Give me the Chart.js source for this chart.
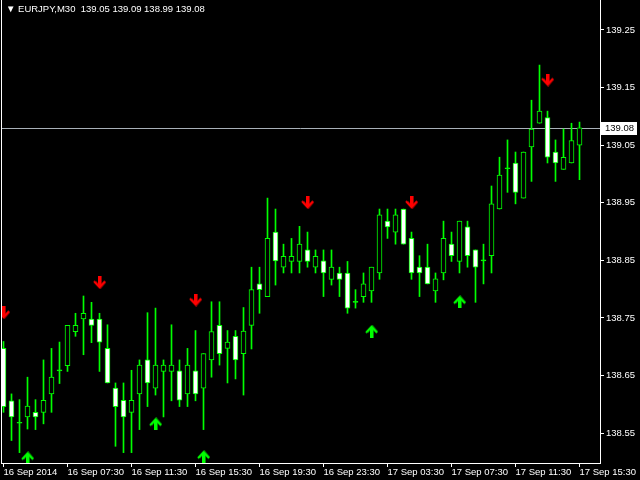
<!DOCTYPE html>
<html lang="en">
<head>
    <meta charset="UTF-8">
    <title>EURJPY,M30</title>
    <script src="https://cdn.jsdelivr.net/npm/chart.js"></script>
    <style>
        html, body {
            margin: 0;
            padding: 0;
            background: #000;
        }
        .wrap {
            position: relative;
            width: 640px;
            height: 480px;
        }
        .caption {
            position: absolute;
            left: 6px;
            top: 3px;
            color: #fff;
            font: 9.5px "Liberation Sans", Arial, sans-serif;
            white-space: pre;
        }
    </style>
</head>
<body>
    <div class="wrap">
        <canvas id="chart" width="640" height="480"></canvas>
        <div class="caption" id="caption"></div>
    </div>

    <script>
        const symbolTitle = 'EURJPY,M30';

        // OHLC, одна свеча на 30 минут
        const opens  = [138.697, 138.606, 138.567, 138.578, 138.586, 138.586, 138.618, 138.658, 138.667, 138.726,
                        138.748, 138.748, 138.748, 138.697, 138.628, 138.607, 138.586, 138.618, 138.677, 138.628,
                        138.657, 138.657, 138.658, 138.618, 138.658, 138.628, 138.677, 138.737, 138.697, 138.718,
                        138.688, 138.737, 138.809, 138.787, 138.899, 138.838, 138.848, 138.848, 138.868, 138.838,
                        138.849, 138.817, 138.828, 138.828, 138.777, 138.787, 138.797, 138.828, 138.918, 138.899,
                        138.939, 138.888, 138.838, 138.838, 138.797, 138.828, 138.878, 138.848, 138.908, 138.868,
                        138.849, 138.858, 138.939, 139.009, 139.019, 138.958, 139.047, 139.088, 139.098, 139.038,
                        139.008, 139.019, 139.05];
        const highs  = [138.709, 138.618, 138.608, 138.647, 138.608, 138.677, 138.697, 138.708, 138.737, 138.758,
                        138.788, 138.777, 138.758, 138.738, 138.637, 138.637, 138.659, 138.677, 138.759, 138.767,
                        138.677, 138.738, 138.677, 138.697, 138.728, 138.688, 138.778, 138.778, 138.728, 138.728,
                        138.768, 138.838, 138.838, 138.958, 138.939, 138.878, 138.888, 138.909, 138.899, 138.868,
                        138.868, 138.868, 138.838, 138.848, 138.799, 138.828, 138.838, 138.939, 138.939, 138.939,
                        138.939, 138.899, 138.858, 138.878, 138.828, 138.918, 138.899, 138.918, 138.918, 138.868,
                        138.878, 138.979, 139.029, 139.059, 139.038, 139.038, 139.128, 139.189, 139.109, 139.059,
                        139.078, 139.088, 139.09];
        const lows   = [138.586, 138.537, 138.516, 138.557, 138.556, 138.566, 138.586, 138.636, 138.657, 138.718,
                        138.686, 138.707, 138.657, 138.637, 138.527, 138.516, 138.516, 138.556, 138.596, 138.616,
                        138.578, 138.606, 138.596, 138.596, 138.606, 138.556, 138.647, 138.668, 138.637, 138.644,
                        138.616, 138.696, 138.758, 138.787, 138.807, 138.828, 138.828, 138.828, 138.838, 138.828,
                        138.787, 138.807, 138.787, 138.758, 138.767, 138.777, 138.777, 138.817, 138.888, 138.878,
                        138.878, 138.817, 138.787, 138.809, 138.777, 138.816, 138.848, 138.828, 138.838, 138.777,
                        138.809, 138.828, 138.939, 138.968, 138.948, 138.958, 138.987, 139.088, 139.019, 138.987,
                        139.008, 139.019, 138.99];
        const closes = [138.596, 138.578, 138.567, 138.597, 138.578, 138.607, 138.647, 138.658, 138.737, 138.737,
                        138.758, 138.737, 138.708, 138.637, 138.596, 138.578, 138.607, 138.668, 138.637, 138.668,
                        138.668, 138.668, 138.607, 138.668, 138.618, 138.688, 138.726, 138.688, 138.708, 138.677,
                        138.727, 138.799, 138.799, 138.888, 138.849, 138.857, 138.857, 138.878, 138.848, 138.857,
                        138.828, 138.838, 138.817, 138.767, 138.777, 138.809, 138.838, 138.929, 138.908, 138.929,
                        138.878, 138.828, 138.828, 138.809, 138.818, 138.888, 138.858, 138.918, 138.858, 138.838,
                        138.849, 138.948, 138.998, 139.009, 138.968, 139.038, 139.078, 139.109, 139.029, 139.019,
                        139.029, 139.058, 139.08];

        // подписи времени (каждые 8 свечей)
        const timeTickIndex = [0, 8, 16, 24, 32, 40, 48, 56, 64, 72];
        const timeLabels = ['16 Sep 2014', '16 Sep 07:30', '16 Sep 11:30', '16 Sep 15:30', '16 Sep 19:30',
                            '16 Sep 23:30', '17 Sep 03:30', '17 Sep 07:30', '17 Sep 11:30', '17 Sep 15:30'];
        const priceTicks = [138.55, 138.65, 138.75, 138.85, 138.95, 139.05, 139.15, 139.25];

        // стрелки индикатора
        const downArrowIdx   = [0, 12, 24, 38, 51, 68];
        const downArrowPrice = [138.759, 138.811, 138.781, 138.950, 138.950, 139.163];
        const upArrowIdx     = [3, 19, 25, 46, 57];
        const upArrowPrice   = [138.507, 138.566, 138.509, 138.727, 138.778];

        const last = closes.length - 1;
        document.getElementById('caption').textContent =
            '\u25BC ' + symbolTitle + '  ' +
            [opens[last], highs[last], lows[last], closes[last]].map(v => v.toFixed(2)).join(' ');

        const GREEN = '#00ff00';
        const AXIS = '#ffffff';
        const FONT = { family: '"Liberation Sans", Arial, sans-serif', size: 9.5 };

        function arrowImage(color, shade, down) {
            const c = document.createElement('canvas');
            c.width = 13;
            c.height = 13;
            const g = c.getContext('2d');
            if (!down) {
                g.translate(0, 13);
                g.scale(1, -1);
            }
            g.lineCap = 'butt';
            g.strokeStyle = shade;
            g.lineWidth = 2;
            g.beginPath();
            g.moveTo(2.5, 5.5); g.lineTo(7.5, 11.5); g.lineTo(12.5, 5.5);
            g.stroke();
            g.fillStyle = shade;
            g.fillRect(7, 0, 2, 11);
            g.strokeStyle = color;
            g.beginPath();
            g.moveTo(1, 5); g.lineTo(6.5, 11); g.lineTo(12, 5);
            g.stroke();
            g.fillStyle = color;
            g.fillRect(5, 0, 3, 11);
            return c;
        }

        const wickData = highs.map((h, i) => ({ x: i, y: [lows[i], h] }));
        const bodyData = opens.map((o, i) => ({ x: i, y: [o, closes[i]] }));
        const downData = downArrowIdx.map((x, k) => ({ x: x, y: downArrowPrice[k] }));
        const upData = upArrowIdx.map((x, k) => ({ x: x, y: upArrowPrice[k] }));

        function bodyColor(ctx) {
            const i = ctx.dataIndex;
            if (opens[i] === closes[i]) return GREEN;
            return closes[i] > opens[i] ? '#000000' : '#ffffff';
        }

        function noPadding(scale) {
            scale.paddingLeft = 0;
            scale.paddingRight = 0;
            scale.paddingTop = 0;
            scale.paddingBottom = 0;
        }

        const frame = {
            id: 'frame',
            beforeDatasetsDraw(chart) {
                const { ctx, chartArea } = chart;
                const y = Math.round(chart.scales.y.getPixelForValue(closes[last])) + 0.5;
                ctx.save();
                ctx.strokeStyle = '#a8b0b8';
                ctx.lineWidth = 1;
                ctx.beginPath();
                ctx.moveTo(chartArea.left, y);
                ctx.lineTo(chartArea.right, y);
                ctx.stroke();
                ctx.restore();
            },
            afterDraw(chart) {
                const { ctx, chartArea } = chart;
                ctx.save();
                ctx.strokeStyle = AXIS;
                ctx.lineWidth = 1;
                ctx.beginPath();
                ctx.moveTo(1.5, chartArea.top);
                ctx.lineTo(1.5, chartArea.bottom + 1);
                ctx.stroke();

                const y = Math.round(chart.scales.y.getPixelForValue(closes[last]));
                ctx.fillStyle = '#ffffff';
                ctx.fillRect(chartArea.right + 1, y - 6, 36, 13);
                ctx.fillStyle = '#000000';
                ctx.font = '9.5px "Liberation Sans", Arial, sans-serif';
                ctx.textBaseline = 'middle';
                ctx.fillText(closes[last].toFixed(2), chartArea.right + 5, y + 0.5);
                ctx.restore();
            }
        };

        const ctx = document.getElementById('chart').getContext('2d');
        const chart = new Chart(ctx, {
            type: 'bar',
            data: {
                datasets: [
                    {
                        type: 'line',
                        data: downData,
                        showLine: false,
                        pointStyle: arrowImage('#ff0000', '#900000', true),
                        pointRadius: 6
                    },
                    {
                        type: 'line',
                        data: upData,
                        showLine: false,
                        pointStyle: arrowImage('#00ff00', '#008800', false),
                        pointRadius: 6
                    },
                    {
                        data: bodyData,
                        grouped: false,
                        barThickness: 5,
                        minBarLength: 1,
                        backgroundColor: bodyColor,
                        borderColor: GREEN,
                        borderWidth: 1,
                        borderSkipped: false
                    },
                    {
                        data: wickData,
                        grouped: false,
                        barThickness: 1,
                        backgroundColor: GREEN,
                        borderWidth: 0
                    }
                ]
            },
            options: {
                responsive: false,
                animation: false,
                devicePixelRatio: 1,
                layout: {
                    autoPadding: false,
                    padding: { left: 1, top: 0, right: 0, bottom: 0 }
                },
                plugins: {
                    legend: { display: false },
                    tooltip: { enabled: false }
                },
                scales: {
                    x: {
                        type: 'linear',
                        offset: false,
                        min: -0.3125,
                        max: 74.5625,
                        afterBuildTicks: (scale) => {
                            scale.ticks = timeTickIndex.map(v => ({ value: v }));
                        },
                        afterFit: (scale) => {
                            scale.height = 17;
                            noPadding(scale);
                        },
                        grid: {
                            offset: false,
                            drawOnChartArea: false,
                            drawTicks: true,
                            tickLength: 4,
                            color: AXIS
                        },
                        border: { display: true, color: AXIS, width: 1 },
                        ticks: {
                            autoSkip: false,
                            maxRotation: 0,
                            align: 'start',
                            padding: 0,
                            color: AXIS,
                            font: FONT,
                            callback: (v) => timeLabels[timeTickIndex.indexOf(v)]
                        }
                    },
                    y: {
                        position: 'right',
                        min: 138.498,
                        max: 139.302,
                        afterBuildTicks: (scale) => {
                            scale.ticks = priceTicks.map(v => ({ value: v }));
                        },
                        afterFit: (scale) => {
                            scale.width = 40;
                            noPadding(scale);
                        },
                        grid: {
                            drawOnChartArea: false,
                            drawTicks: true,
                            tickLength: 4,
                            color: AXIS
                        },
                        border: { display: true, color: AXIS, width: 1 },
                        ticks: {
                            padding: 2,
                            color: AXIS,
                            font: FONT,
                            callback: (v) => Number(v).toFixed(2)
                        }
                    }
                }
            },
            plugins: [frame]
        });
    </script>
</body>
</html>
